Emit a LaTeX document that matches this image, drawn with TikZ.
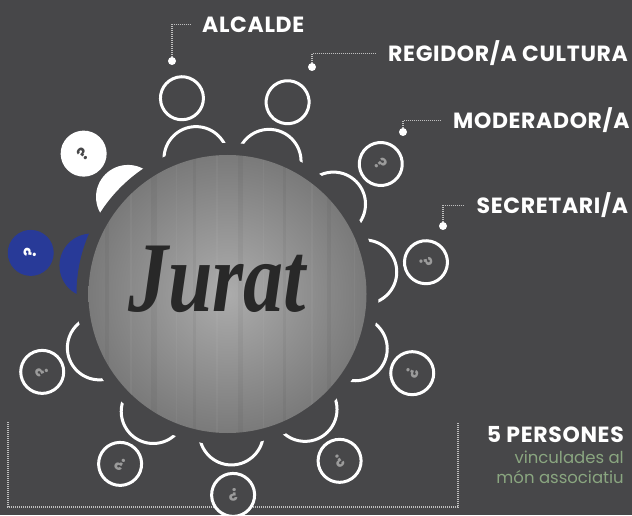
\documentclass[tikz,border=0pt]{standalone}
\usepackage{fontspec}
\newfontfamily\popfont{Poppins}
\newfontfamily\rolefont{Poppins}[LetterSpace=3]
\newfontfamily\juratfont{Liberation Serif}
\usetikzlibrary{positioning,calc}
\definecolor{board}{RGB}{71,71,73}
\definecolor{seatblue}{RGB}{40,58,152}
\definecolor{qmark}{RGB}{155,155,155}
\definecolor{sage}{RGB}{138,166,128}
\definecolor{ink}{RGB}{40,40,40}
\definecolor{dotline}{RGB}{190,190,190}
\tikzstyle{body-plain}=[draw=white,line width=3pt]
\tikzstyle{body-white}=[fill=white]
\tikzstyle{body-blue}=[fill=seatblue]
\tikzstyle{seathead}=[circle,inner sep=0pt,minimum size=43pt,
                  font=\popfont\bfseries\fontsize{17}{17}\selectfont]
\tikzstyle{head-plain}=[seathead,draw=white,line width=3pt,fill=board,text=qmark]
\tikzstyle{head-white}=[seathead,minimum size=46pt,fill=white,text=board]
\tikzstyle{head-blue}=[seathead,minimum size=46pt,fill=seatblue,text=white]
\tikzstyle{knob}=[circle,fill=white,minimum size=8pt,inner sep=0pt]
\tikzstyle{role}=[anchor=west,inner sep=0pt,text=white,
                  font=\rolefont\bfseries\fontsize{22}{22}\selectfont]
\tikzstyle{leader}=[dotline,line width=1.2pt,dash pattern=on 1pt off 1pt,shorten >=12pt]
\tikzstyle{bracket}=[dotline,line width=1.2pt,dash pattern=on 1pt off 1pt]
\tikzstyle{jurat}=[text=ink,xscale=0.8,
                  font=\juratfont\bfseries\itshape\fontsize{100}{100}\selectfont]

\begin{document}
\begin{tikzpicture}[x=1pt,y=1pt]
      \useasboundingbox (0,0) rectangle (632,515);
      \fill[board] (0,0) rectangle (632,515);
      \coordinate (T) at (227.5,221);
      % Dotted bracket round the lower seats
      \draw[bracket] (8,93) |- (458,8) -- (458,93);
      %
      % Place the bodies, half hidden by the table
      \foreach \ang/\kind in {103.1/plain, 72.6/plain, 40.3/plain, 9.1/plain, -23.2/plain,
          -56.1/plain, -88.4/plain, -122.3/plain, -157.2/plain, 168.2/blue, 135.7/white}
        \path[body-\kind] (T) ++(\ang:139pt) circle (32pt);
      %
      % Table with its gap and a little grain
      \fill[board] (T) circle (151pt);
      \shade[inner color={rgb,255:red,172;green,172;blue,172},
             outer color={rgb,255:red,122;green,122;blue,122}] (T) circle (139pt);
      \begin{scope}
        \clip (T) circle (139pt);
        \foreach \dx/\w/\tone in {-121/4/black, -97/2/white, -74/6/black, -51/1.5/white,
            -33/3/black, -11/2/white, 13/5/black, 36/1.5/white, 57/3/black, 84/2/white,
            101/4/black, 127/1.5/white}
          \fill[\tone,opacity=0.04] ([xshift=\dx pt]T) ++(-\w/2,-140) rectangle ++(\w,280);
      \end{scope}
      \node[jurat] (jurat) at (217,236) {Jurat};
      %
      % Place the heads
      \foreach \ang/\name/\kind/\q in {103.1/alcalde/plain/{}, 72.6/regidor/plain/{},
          40.3/moderador/plain/?, 9.1/secretari/plain/?, -23.2/s5/plain/?,
          -56.1/s6/plain/?, -88.4/s7/plain/?, -122.3/s8/plain/?, -157.2/s9/plain/?,
          168.2/s10/blue/?, 135.7/s11/white/?}
        \node[head-\kind,rotate=\ang-90] (h\name) at ([shift={(\ang:201pt)}]T) {\q};
      %
      % Roles and their leaders
      \foreach \dot/\place/\name/\txt in {{(172,454)/(202,490.5)/alcalde/{ALCALDE}},
          {(312,448)/(388,461.5)/regidor/{REGIDOR/A CULTURA}},
          {(403,383)/(453,394.5)/moderador/{MODERADOR/A}},
          {(443,289)/(476.5,309.5)/secretari/{SECRETARI/A}}}
      {
        \node[knob] (k\name) at \dot {};
        \node[role] (l\name) at \place {\txt};
        \draw[leader] (k\name) |- (l\name.west);
      }
      %
      % Count of members
      \node[role,anchor=base east] (count) at (624,73) {5 PERSONES};
      \node[anchor=base east,inner sep=0pt,text=sage,
            font=\popfont\fontsize{16.5}{16.5}\selectfont] (vinc) at ([yshift=-21pt]count.base east) {vinculades al};
      \node[anchor=base east,inner sep=0pt,text=sage,
            font=\popfont\fontsize{16.5}{16.5}\selectfont] (mon) at ([yshift=-20pt]vinc.base east) {món associatiu};
\end{tikzpicture}
\end{document}
